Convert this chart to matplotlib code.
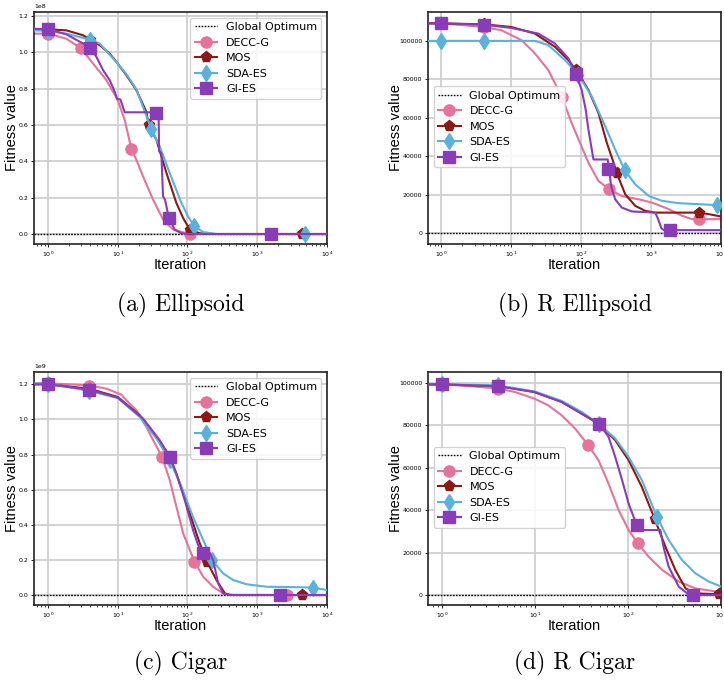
import numpy as np
import matplotlib
matplotlib.use("Agg")
import matplotlib.pyplot as plt
from matplotlib.ticker import MultipleLocator, LogLocator

# ---------------- data ----------------
# (a) Ellipsoid (values x1e8)
A_DECC_X = [0.63, 1, 1.83, 2.94, 4.43, 6.88, 10, 12.6, 15.7, 18.5, 23.1, 32.2, 44.8, 62.3, 96.8, 150, 1e4]
A_DECC_Y = [1.103, 1.103, 1.075, 1.024, 0.938, 0.847, 0.737, 0.627, 0.468, 0.408, 0.316, 0.188, 0.079, 0.024, 0.004, 0, 0]
A_DECC_MX = [1, 2.94, 15.7, 107]
A_DECC_MY = [1.103, 1.024, 0.468, 0.0]

A_MOS_X = [0.63, 1, 1.83, 3.18, 3.97, 5.52, 7.66, 10, 13.3, 18.5, 25.7, 27.8, 35.9, 50, 69.4, 86.6, 108, 150, 233, 1e4]
A_MOS_Y = [1.127, 1.127, 1.121, 1.094, 1.07, 1.039, 0.993, 0.938, 0.874, 0.792, 0.673, 0.60, 0.518, 0.335, 0.170, 0.088, 0.024, 0.004, 0, 0]
A_MOS_MX = [1, 3.97, 27.8, 108, 4360]
A_MOS_MY = [1.127, 1.07, 0.60, 0.024, 0]

A_SDA_X = [0.63, 1, 1.83, 3.97, 5.52, 10, 13.3, 18.5, 30.4, 40, 55.7, 82, 101.8, 124.7, 168, 260, 1e4]
A_SDA_Y = [1.121, 1.118, 1.103, 1.07, 1.048, 0.938, 0.88, 0.796, 0.578, 0.481, 0.335, 0.170, 0.097, 0.042, 0.011, 0, 0]
A_SDA_MX = [1, 3.97, 30.4, 124.7, 4800]
A_SDA_MY = [1.118, 1.066, 0.578, 0.042, 0]

A_GI_X = [0.63, 1, 1.83, 2.9, 3.97, 4.94, 6.16, 7.66, 9.06, 9.8, 10.9, 12.6, 35.9, 38.5, 39.2, 42.2, 44.6, 47.7, 52.8, 55.7, 65.7, 82, 108, 1e4]
A_GI_Y = [1.13, 1.127, 1.099, 1.057, 1.030, 0.975, 0.902, 0.847, 0.783, 0.743, 0.741, 0.670, 0.670, 0.664, 0.454, 0.444, 0.207, 0.188, 0.106, 0.079, 0.024, 0.004, 0, 0]
A_GI_MX = [1, 3.97, 35.9, 54.5, 1570]
A_GI_MY = [1.127, 1.024, 0.668, 0.088, 0]

# (b) R Ellipsoid
B_DECC_X = [0.645, 1, 4.1, 7.26, 14.1, 21.8, 33.9, 47.2, 52.6, 73.1, 96.5, 127, 177, 252, 381, 666, 1030, 1790, 2780, 3870, 1e4]
B_DECC_Y = [109100, 109100, 107200, 105500, 100300, 93500, 84800, 74500, 71100, 57300, 47000, 36700, 27200, 22900, 19400, 17700, 16000, 12600, 9100, 7400, 7400]
B_DECC_MX = [1, 4.1, 52.6, 251, 4800]
B_DECC_MY = [109100, 107200, 71100, 22900, 7400]

B_MOS_X = [0.645, 1, 4.1, 10.1, 21.8, 42.2, 65.7, 91.5, 127, 177, 233, 291, 324, 427, 594, 827, 1150, 4830, 6700, 1e4]
B_MOS_Y = [109100, 109100, 108600, 107200, 103800, 96900, 90000, 83100, 74500, 62500, 47000, 36700, 31200, 20300, 14300, 11700, 10800, 10800, 10000, 8800]
B_MOS_MX = [1, 4.1, 84, 324, 4830]
B_MOS_MY = [109100, 108600, 85000, 31200, 10800]

B_SDA_X = [0.645, 21.8, 33.9, 58.7, 91.5, 142, 221, 307, 418, 594, 930, 1440, 2490, 1e4]
B_SDA_Y = [100000, 100000, 97800, 90000, 82300, 71100, 55600, 43500, 32900, 25500, 19400, 16900, 15700, 14600]
B_SDA_MX = [1, 4.1, 91.5, 418, 8900]
B_SDA_MY = [100000, 100000, 82300, 32900, 14600]

B_GI_X = [0.645, 1, 4.1, 10.1, 24.4, 42.2, 65.7, 84.2, 101.8, 116.3, 127, 142, 150, 240, 251, 268, 307, 381, 532, 1150, 1260, 1410, 1520, 1e4]
B_GI_Y = [109100, 109100, 108400, 106700, 103800, 98600, 90900, 82800, 74500, 64200, 53900, 43500, 38400, 38400, 33200, 24600, 17700, 13400, 11400, 10800, 7400, 2600, 1700, 1700]
B_GI_MX = [1, 4.1, 84.2, 245, 1860]
B_GI_MY = [109100, 108400, 82800, 33600, 1700]

# (c) Cigar (values x1e9)
C_DECC_X = [0.63, 1, 3.87, 6.87, 9.06, 11.3, 13.3, 18.5, 25.7, 32.2, 43.1, 55.7, 69.4, 86.6, 108, 126, 168, 233, 324, 453, 1e4]
C_DECC_Y = [1.206, 1.206, 1.194, 1.175, 1.156, 1.141, 1.109, 1.052, 0.957, 0.881, 0.787, 0.654, 0.502, 0.351, 0.256, 0.190, 0.104, 0.047, 0.009, 0, 0]
C_DECC_MX = [1, 3.87, 43.1, 126, 2630]
C_DECC_MY = [1.206, 1.19, 0.787, 0.19, 0]

C_MOS_X = [0.63, 1, 3.87, 10, 20.6, 35.9, 55.7, 77.8, 108, 150, 192, 260, 344, 403, 1e4]
C_MOS_Y = [1.2, 1.2, 1.175, 1.128, 1.024, 0.900, 0.787, 0.635, 0.464, 0.294, 0.186, 0.085, 0.009, 0, 0]
C_MOS_MX = [1, 3.87, 55.7, 192, 4350]
C_MOS_MY = [1.2, 1.175, 0.787, 0.186, 0]

C_SDA_X = [0.63, 1, 3.87, 10, 20.6, 35.9, 55.7, 82, 120, 168, 225, 324, 453, 703, 1370, 4150, 6330, 1e4]
C_SDA_Y = [1.204, 1.204, 1.162, 1.122, 1.014, 0.891, 0.768, 0.616, 0.445, 0.313, 0.199, 0.123, 0.085, 0.061, 0.047, 0.044, 0.042, 0.028]
C_SDA_MX = [1, 3.87, 55.7, 225, 6330]
C_SDA_MY = [1.204, 1.162, 0.768, 0.199, 0.042]

C_GI_X = [0.63, 1, 3.87, 10, 23.1, 40, 55.7, 69.4, 91.5, 120, 142, 168, 208, 233, 275, 324, 403, 1e4]
C_GI_Y = [1.2, 1.2, 1.17, 1.124, 1.005, 0.881, 0.787, 0.692, 0.540, 0.370, 0.284, 0.241, 0.241, 0.199, 0.066, 0.009, 0, 0]
C_GI_MX = [1, 3.87, 55.7, 168, 2110]
C_GI_MY = [1.2, 1.17, 0.787, 0.241, 0]

# (d) R Cigar
D_DECC_X = [0.706, 1, 2.07, 4.02, 6.08, 9.83, 13.9, 19.4, 27.0, 37.0, 48.2, 61.8, 79.4, 101.6, 128, 167, 233, 352, 531, 1017]
D_DECC_Y = [99100, 99100, 98300, 97200, 95600, 92500, 89300, 84600, 78400, 70800, 63500, 52500, 40000, 30600, 24300, 18000, 11800, 6300, 3100, 1300]
D_DECC_MX = [1, 4.02, 37, 128]
D_DECC_MY = [99100, 97200, 70800, 24300]

D_MOS_X = [0.706, 1, 4.02, 9.83, 19.4, 31.8, 49, 73, 101.6, 141, 193, 253, 323, 416, 531, 1017]
D_MOS_Y = [99100, 99100, 98400, 95600, 90900, 85400, 80400, 72900, 63500, 50900, 36000, 22700, 11800, 3100, 800, 300]
D_MOS_MX = [1, 4.02, 49, 193, 950]
D_MOS_MY = [99100, 98400, 80400, 36000, 300]

D_SDA_X = [0.706, 1, 4.02, 9.83, 19.4, 31.8, 49, 73, 101.6, 141, 205, 274, 380, 531, 738, 1017]
D_SDA_Y = [99200, 99200, 98700, 95900, 91400, 86200, 80400, 73700, 65000, 54100, 36800, 25900, 16500, 10200, 6300, 3900]
D_SDA_MX = [1, 4.02, 49, 205]
D_SDA_MY = [99200, 98700, 80400, 36800]

D_GI_X = [0.706, 1, 4.02, 9.83, 19.4, 31.8, 49, 61.8, 73, 86.5, 101.6, 115, 124, 128, 223, 241, 274, 352, 433, 507, 1017]
D_GI_Y = [99200, 99200, 98300, 95600, 90900, 85400, 80700, 74500, 65000, 54100, 43100, 36800, 33200, 30600, 30600, 22700, 13300, 3900, 800, 0, 0]
D_GI_MX = [1, 4.02, 49, 124, 500]
D_GI_MY = [99200, 98300, 80700, 33200, 0]

CAPTIONS = ["(a) Ellipsoid", "(b) R Ellipsoid", "(c) Cigar", "(d) R Cigar"]
NAMES = ["DECC-G", "MOS", "SDA-ES", "GI-ES"]
COLORS = ["#E5739A", "#8B1A14", "#5AB2DC", "#8A3CB8"]
MARKERS = ["o", "p", "d", "s"]

panels = [
    dict(scale=1e8, xlim=(0.63, 1e4), ylim=(-0.055, 1.222), ystep=0.2,
         series=[(A_DECC_X, A_DECC_Y, A_DECC_MX, A_DECC_MY), (A_MOS_X, A_MOS_Y, A_MOS_MX, A_MOS_MY),
                 (A_SDA_X, A_SDA_Y, A_SDA_MX, A_SDA_MY), (A_GI_X, A_GI_Y, A_GI_MX, A_GI_MY)],
         legend=dict(loc="upper right"), ylab_x=-0.051),
    dict(scale=1, xlim=(0.645, 1e4), ylim=(-5500, 115000), ystep=20000,
         series=[(B_DECC_X, B_DECC_Y, B_DECC_MX, B_DECC_MY), (B_MOS_X, B_MOS_Y, B_MOS_MX, B_MOS_MY),
                 (B_SDA_X, B_SDA_Y, B_SDA_MX, B_SDA_MY), (B_GI_X, B_GI_Y, B_GI_MX, B_GI_MY)],
         legend=dict(loc="upper left", bbox_to_anchor=(0.02, 0.68), borderaxespad=0), ylab_x=-0.084),
    dict(scale=1e9, xlim=(0.63, 1e4), ylim=(-0.057, 1.27), ystep=0.2,
         series=[(C_DECC_X, C_DECC_Y, C_DECC_MX, C_DECC_MY), (C_MOS_X, C_MOS_Y, C_MOS_MX, C_MOS_MY),
                 (C_SDA_X, C_SDA_Y, C_SDA_MX, C_SDA_MY), (C_GI_X, C_GI_Y, C_GI_MX, C_GI_MY)],
         legend=dict(loc="upper right"), ylab_x=-0.051),
    dict(scale=1, xlim=(0.71, 1000), ylim=(-4700, 105000), ystep=20000,
         series=[(D_DECC_X, D_DECC_Y, D_DECC_MX, D_DECC_MY), (D_MOS_X, D_MOS_Y, D_MOS_MX, D_MOS_MY),
                 (D_SDA_X, D_SDA_Y, D_SDA_MX, D_SDA_MY), (D_GI_X, D_GI_Y, D_GI_MX, D_GI_MY)],
         legend=dict(loc="upper left", bbox_to_anchor=(0.02, 0.68), borderaxespad=0), ylab_x=-0.084),
]

# ---------------- layout ----------------
W, H = 724, 680
fig = plt.figure(figsize=(W / 100, H / 100), dpi=100)
boxes = [(34, 12, 327, 244), (428, 12, 721, 244), (34, 372, 327, 605), (428, 372, 721, 605)]
cap_pos = [(181, 305), (575, 305), (181, 663), (575, 663)]

for i, p in enumerate(panels):
    l, t, r, b = boxes[i]
    ax = fig.add_axes([l / W, 1 - b / H, (r - l) / W, (b - t) / H])
    ax.set_xscale("log")
    ax.grid(True, which="major", color="#d0d0d0", linewidth=1.3)
    ax.set_axisbelow(True)
    s = p["scale"]
    ax.axhline(0, color="black", linestyle=(0, (1.2, 1.0)), linewidth=1.0, label="Global Optimum", zorder=1.5)
    for j, (xs, ys, mx, my) in enumerate(p["series"]):
        ax.plot(xs, np.array(ys) * s, color=COLORS[j], linewidth=1.5, zorder=2 + j)
        ax.plot(mx, np.array(my) * s, linestyle="none", marker=MARKERS[j], color=COLORS[j],
                markersize=8, zorder=2 + j)
        ax.plot([], [], color=COLORS[j], linewidth=1.5, marker=MARKERS[j], markersize=8, label=NAMES[j])
    ax.set_xlim(*p["xlim"])
    ax.set_ylim(p["ylim"][0] * s, p["ylim"][1] * s)
    ax.yaxis.set_major_locator(MultipleLocator(p["ystep"] * s))
    ax.xaxis.set_major_locator(LogLocator(base=10, numticks=10))
    ax.tick_params(labelsize=4.5, length=2.5, width=0.6, pad=1.5)
    ax.tick_params(which="minor", length=1.5, width=0.5)
    ax.yaxis.get_offset_text().set_fontsize(4.5)
    for sp in ax.spines.values():
        sp.set_color("#222222")
        sp.set_linewidth(1.2)
    ax.set_xlabel("Iteration", fontsize=10.5, family="Liberation Sans")
    ax.set_ylabel("Fitness value", fontsize=10.5, family="Liberation Sans")
    ax.xaxis.set_label_coords(0.5, -0.062)
    ax.yaxis.set_label_coords(p["ylab_x"], 0.5)
    ax.legend(fontsize=8, framealpha=0.85, edgecolor="#cccccc", fancybox=True, **p["legend"])
    cx, cy = cap_pos[i]
    fig.text(cx / W, 1 - cy / H, CAPTIONS[i], ha="center", va="center", fontsize=17, family="cmr10")

fig.savefig("out.png", dpi=100)
